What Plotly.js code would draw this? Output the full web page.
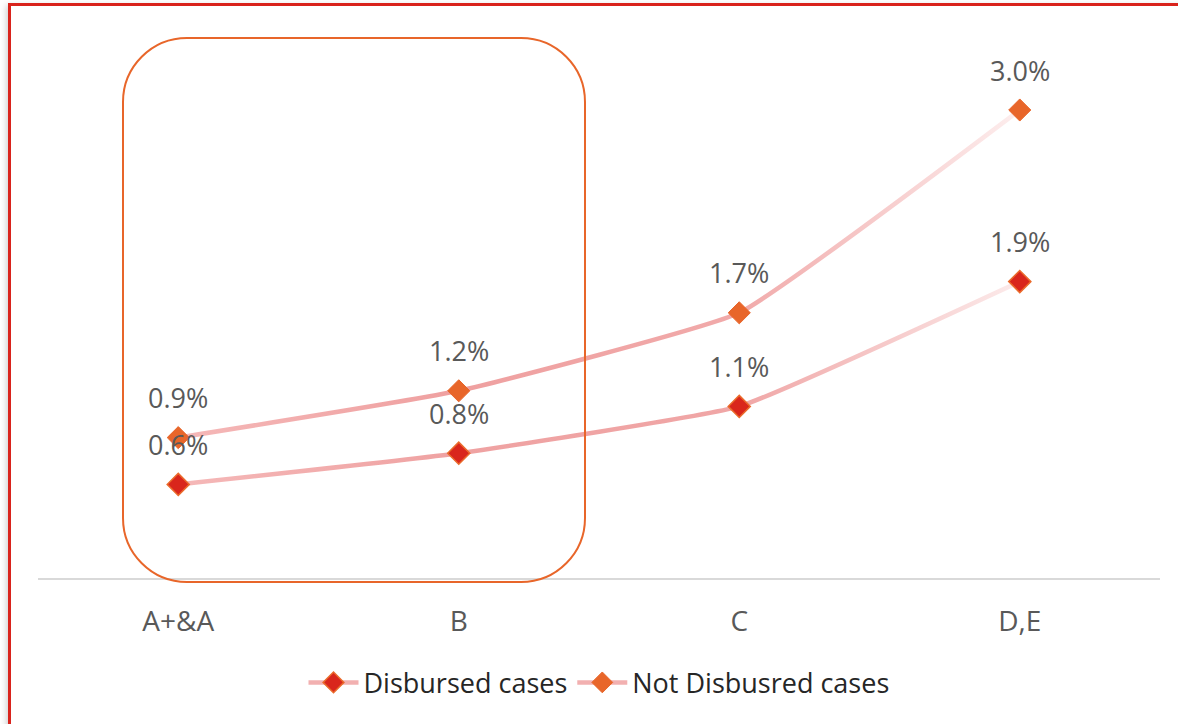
<!DOCTYPE html>
<html>
<head>
<meta charset="utf-8">
<script src="https://cdn.plot.ly/plotly-3.0.1.min.js"></script>
<style>
  html, body { margin: 0; padding: 0; background: #fff; }
  #wrap { position: relative; width: 1178px; height: 724px; overflow: hidden; }
  #chart { position: absolute; left: 0; top: 0; width: 1178px; height: 724px; }
  #frame { position: absolute; left: 8px; top: 3px; width: 1200px; height: 800px;
           border-left: 3px solid #d9231c; border-top: 3px solid #d9231c;
           box-shadow: -4px 0 6px -2px rgba(0,0,0,0.18); pointer-events: none; }
</style>
</head>
<body>
<div id="wrap">
  <div id="chart"></div>
  <div id="frame"></div>
</div>
<script>
// ---- data ----
const categories = ["A+&A", "B", "C", "D,E"];
const disbursed = [0.006, 0.008, 0.011, 0.019];
const notDisbursed = [0.009, 0.012, 0.017, 0.030];
const seriesNames = ["Disbursed cases", "Not Disbusred cases"];

const W = 1178, H = 724;
const margin = {l: 38, r: 18, t: 32, b: 146};
const plotW = W - margin.l - margin.r, plotH = H - margin.t - margin.b;

const lineColor = '#f2b0b0';
const fmt = v => (v * 100).toFixed(1) + '%';
const FONT = 'Open Sans, sans-serif';

const traces = [
  {
    x: categories, y: disbursed, name: seriesNames[0], type: 'scatter', mode: 'lines+markers',
    line: {color: lineColor, width: 4.5, shape: 'spline', smoothing: 0.35},
    marker: {symbol: 'diamond', size: 17, color: '#d9261c', line: {color: '#ea6a2b', width: 1.5}},
    cliponaxis: false
  },
  {
    x: categories, y: notDisbursed, name: seriesNames[1], type: 'scatter', mode: 'lines+markers',
    line: {color: lineColor, width: 4.5, shape: 'spline', smoothing: 0.35},
    marker: {symbol: 'diamond', size: 17, color: '#e8662a', line: {color: '#e8662a', width: 1}},
    cliponaxis: false
  }
];

const annotations = [];
[disbursed, notDisbursed].forEach(arr => {
  arr.forEach((v, i) => {
    annotations.push({
      x: categories[i], y: v, xref: 'x', yref: 'y', text: fmt(v), showarrow: false,
      yshift: 40, font: {family: FONT, size: 27, color: '#595959'}
    });
  });
});

// rounded rectangle highlight (pixel box converted to paper coords)
function px2paper(px, py) {
  return [(px - margin.l) / plotW, (H - margin.b - py) / plotH];
}
function roundedRect(x0, y0, x1, y1, r) {
  const k = 0.5523 * r;
  const pts = [
    ['M', [x0 + r, y0]],
    ['L', [x1 - r, y0]],
    ['C', [x1 - r + k, y0], [x1, y0 + r - k], [x1, y0 + r]],
    ['L', [x1, y1 - r]],
    ['C', [x1, y1 - r + k], [x1 - r + k, y1], [x1 - r, y1]],
    ['L', [x0 + r, y1]],
    ['C', [x0 + r - k, y1], [x0, y1 - r + k], [x0, y1 - r]],
    ['L', [x0, y0 + r]],
    ['C', [x0, y0 + r - k], [x0 + r - k, y0], [x0 + r, y0]]
  ];
  return pts.map(seg => seg[0] + ' ' + seg.slice(1).map(p => {
    const q = px2paper(p[0], p[1]);
    return q[0].toFixed(5) + ',' + q[1].toFixed(5);
  }).join(' ')).join(' ') + ' Z';
}

const layout = {
  width: W, height: H,
  margin: margin,
  paper_bgcolor: '#ffffff', plot_bgcolor: '#ffffff',
  showlegend: true,
  legend: {
    orientation: 'h', x: 0.5, xanchor: 'center', y: -0.192, yanchor: 'middle',
    font: {family: FONT, size: 27, color: '#262626'},
    itemwidth: 50, tracegroupgap: 0
  },
  xaxis: {
    type: 'category', range: [-0.5, 3.5], showgrid: false, zeroline: false,
    showline: true, linecolor: '#d9d9d9', linewidth: 1.5,
    ticks: '', ticklabelstandoff: 18,
    tickfont: {family: FONT, size: 28, color: '#595959'}
  },
  yaxis: {
    range: [0, 0.035], showgrid: false, zeroline: false, showline: false,
    showticklabels: false, ticks: ''
  },
  annotations: annotations,
  shapes: [{
    type: 'path', xref: 'paper', yref: 'paper', layer: 'above',
    path: roundedRect(123, 38, 585, 582, 64),
    line: {color: '#e8662a', width: 2}, fillcolor: 'rgba(0,0,0,0)'
  }],
  font: {family: FONT}
};

// gradient stops (visual style of the line, fading at the ends)
const gradStops = [
  [['0', '#f5b8b8'], ['0.33', '#efa2a2'], ['0.67', '#f0a6a6'], ['1', '#fcebeb']],
  [['0', '#f5b8b8'], ['0.33', '#efa0a0'], ['0.67', '#f1aaaa'], ['1', '#fdeeee']]
];

Plotly.newPlot('chart', traces, layout, {displayModeBar: false, staticPlot: true}).then(gd => {
  const NS = 'http://www.w3.org/2000/svg';
  const svg = gd.querySelector('svg.main-svg');
  let defs = svg.querySelector('defs');
  if (!defs) { defs = document.createElementNS(NS, 'defs'); svg.insertBefore(defs, svg.firstChild); }
  const lines = gd.querySelectorAll('.scatterlayer .trace path.js-line');
  lines.forEach((p, i) => {
    const g = document.createElementNS(NS, 'linearGradient');
    g.setAttribute('id', 'lg' + i);
    g.setAttribute('x1', '0'); g.setAttribute('y1', '0');
    g.setAttribute('x2', '1'); g.setAttribute('y2', '0');
    gradStops[i % gradStops.length].forEach(s => {
      const st = document.createElementNS(NS, 'stop');
      st.setAttribute('offset', s[0]);
      st.setAttribute('stop-color', s[1]);
      g.appendChild(st);
    });
    defs.appendChild(g);
    p.style.stroke = 'url(#lg' + i + ')';
  });
});
</script>
</body>
</html>
